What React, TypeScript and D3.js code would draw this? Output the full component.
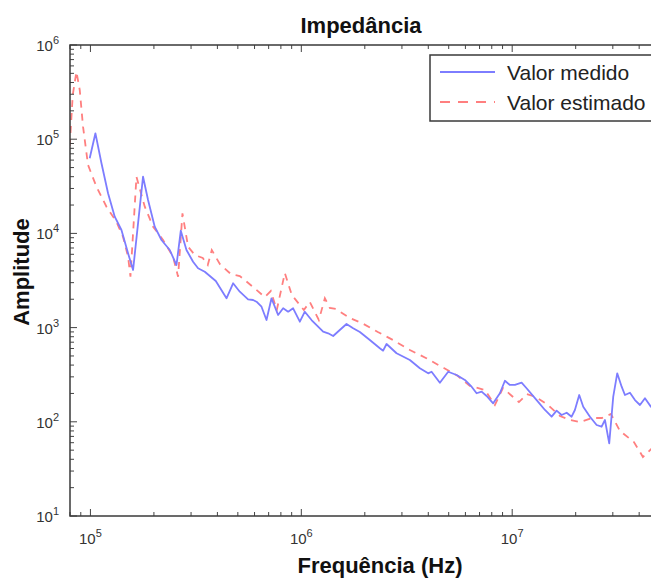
import React from 'react';
import * as d3 from 'd3';

const measuredFreq = [
  9.92e4, 1.056e5, 1.128e5, 1.212e5, 1.304e5, 1.403e5, 1.508e5, 1.593e5, 1.776e5, 1.876e5,
  2.018e5, 2.172e5, 2.378e5, 2.559e5, 2.682e5, 2.854e5, 3.067e5, 3.239e5, 3.485e5, 3.93e5,
  4.418e5, 4.748e5, 5.108e5, 5.592e5, 5.907e5, 6.131e5, 6.475e5, 6.838e5, 7.222e5, 7.761e5,
  8.2e5, 8.66e5, 9.144e5, 9.84e5, 1.039e6, 1.118e6, 1.201e6, 1.269e6, 1.34e6, 1.416e6,
  1.522e6, 1.638e6, 1.761e6, 1.895e6, 2.113e6, 2.357e6, 2.443e6, 2.536e6, 2.829e6, 3.271e6,
  3.649e6, 3.995e6, 4.146e6, 4.54e6, 4.972e6, 5.449e6, 5.965e6, 6.42e6, 6.78e6, 7.159e6,
  7.561e6, 8.124e6, 8.745e6, 9.235e6, 9.752e6, 1.03e7, 1.108e7, 1.17e7, 1.306e7, 1.43e7,
  1.538e7, 1.624e7, 1.715e7, 1.812e7, 1.913e7, 1.983e7, 2.079e7, 2.172e7, 2.337e7, 2.514e7,
  2.655e7, 2.753e7, 2.885e7, 3.014e7, 3.148e7, 3.304e7, 3.425e7, 3.617e7, 3.82e7, 4.035e7,
  4.261e7, 4.545e7, 4.81e7,
];
const measuredAmp = [
  6.27e4, 1.155e5, 5.55e4, 2.666e4, 1.504e4, 1.087e4, 6146, 4088, 4.0e4, 2.262e4,
  1.178e4, 8511, 6664, 4618, 1.068e4, 6664, 5006, 4261, 3921, 3123,
  2046, 2954, 2405, 1997, 1963, 1884, 1667, 1204, 2046, 1361,
  1603, 1475, 1603, 1155, 1475, 1204, 1022, 904, 870, 814,
  943, 1092, 983, 898, 739, 603, 569, 670, 534, 453,
  370, 327, 340, 260, 340, 314, 278, 236, 201, 209,
  188, 157, 201, 273, 246, 246, 260, 227, 170, 133.5,
  113.3, 131.2, 118.1, 124.9, 113.3, 133.5, 192.5, 144.6, 113.3, 92.5,
  88.7, 104.5, 59.1, 184.8, 327, 236, 192.5, 203.7, 170, 150.8,
  177.6, 144.6, 162,
];

const estimatedFreq = [
  7.977e4, 8.243e4, 8.583e4, 8.898e4, 9.224e4, 9.741e4, 1.068e5, 1.191e5, 1.328e5, 1.427e5,
  1.508e5, 1.548e5, 1.653e5, 1.81e5, 1.982e5, 2.21e5, 2.465e5, 2.604e5, 2.731e5, 2.904e5,
  3.126e5, 3.41e5, 3.601e5, 3.762e5, 4.106e5, 4.63e5, 5.108e5, 5.824e5, 6.712e5, 7.166e5,
  7.65e5, 8.352e5, 9.014e5, 1.028e6, 1.097e6, 1.211e6, 1.293e6, 1.365e6, 1.457e6, 1.699e6,
  1.936e6, 2.306e6, 2.717e6, 3.271e6, 3.896e6, 4.742e6, 5.527e6, 6.3e6, 7.42e6, 8.279e6,
  9.036e6, 9.968e6, 1.076e7, 1.174e7, 1.295e7, 1.477e7, 1.684e7, 1.878e7, 2.096e7, 2.388e7,
  2.664e7, 2.939e7, 3.243e7, 3.778e7, 4.169e7, 4.613e7, 4.81e7,
];
const estimatedAmp = [
  8.47e4, 2.945e5, 5.21e5, 3.33e5, 1.358e5, 5.324e4, 3.131e4, 1.92e4, 1.331e4, 9226,
  5656, 3470, 4.0e4, 1.92e4, 1.178e4, 8511, 5656, 3470, 1.635e4, 7222,
  5898, 5482, 4618, 6664, 4734, 3707, 3530, 2764, 2113, 2446,
  1538, 3799, 2218, 1538, 1870, 1204, 2046, 1615, 1576, 1264,
  1119, 898, 739, 578, 476, 372, 306, 240, 218, 150.8,
  228, 188, 162, 197, 183.4, 150.8, 115.3, 104.5, 99.5, 109.7,
  109.7, 121, 79.9, 61, 42.3, 52.7, 64.1,
];

const xTickExps = [5, 6, 7];
const yTickExps = [1, 2, 3, 4, 5, 6];
const seriesNames = ['Valor medido', 'Valor estimado'];
const titleText = 'Impedância';
const xLabelText = 'Frequência (Hz)';
const yLabelText = 'Amplitude';

const W = 651;
const H = 579;
const L = 70, R = 659.6, T = 45, B = 516;

export default function App() {
  const x = d3.scaleLog().domain([8e4, 5e7]).range([L, R]);
  const y = d3.scaleLog().domain([10, 1e6]).range([B, T]);

  const line = d3
    .line<[number, number]>()
    .x((d) => x(d[0]))
    .y((d) => y(d[1]));

  const measured = measuredFreq.map((f, i) => [f, measuredAmp[i]] as [number, number]);
  const estimated = estimatedFreq.map((f, i) => [f, estimatedAmp[i]] as [number, number]);

  const xMinor: number[] = [];
  for (let d = 4; d <= 7; d++) {
    for (let k = 2; k <= 9; k++) {
      const v = k * Math.pow(10, d);
      if (v >= 8e4 && v <= 5e7) xMinor.push(v);
    }
  }
  const yMinor: number[] = [];
  for (let d = 1; d <= 5; d++) {
    for (let k = 2; k <= 9; k++) yMinor.push(k * Math.pow(10, d));
  }

  const axisColor = '#3a3a3a';
  const tickColor = '#444';
  const font = 'Liberation Sans, Arial, Helvetica, sans-serif';
  const majorLen = 7;
  const minorLen = 4;

  return (
    <svg
      width={W}
      height={H}
      style={{ position: 'absolute', left: 0, top: 0, display: 'block', background: '#fff' }}
      fontFamily={font}
    >
      <defs>
        <clipPath id="plotclip">
          <rect x={L} y={T} width={R - L} height={B - T} />
        </clipPath>
      </defs>

      {/* series */}
      <g clipPath="url(#plotclip)">
        <path d={line(estimated) || ''} fill="none" stroke="#ff7f7f" strokeWidth={1.8} strokeDasharray="7,6" />
        <path d={line(measured) || ''} fill="none" stroke="#7d7dff" strokeWidth={1.8} strokeLinejoin="round" />
      </g>

      {/* ticks */}
      <g stroke={tickColor} strokeWidth={1}>
        {xMinor.map((v, i) => (
          <g key={'xm' + i}>
            <line x1={x(v)} x2={x(v)} y1={B} y2={B - minorLen} />
            <line x1={x(v)} x2={x(v)} y1={T} y2={T + minorLen} />
          </g>
        ))}
        {xTickExps.map((e) => (
          <g key={'xM' + e}>
            <line x1={x(Math.pow(10, e))} x2={x(Math.pow(10, e))} y1={B} y2={B - majorLen} />
            <line x1={x(Math.pow(10, e))} x2={x(Math.pow(10, e))} y1={T} y2={T + majorLen} />
          </g>
        ))}
        {yMinor.map((v, i) => (
          <line key={'ym' + i} x1={L} x2={L + minorLen} y1={y(v)} y2={y(v)} />
        ))}
        {yTickExps.map((e) => (
          <line key={'yM' + e} x1={L} x2={L + majorLen} y1={y(Math.pow(10, e))} y2={y(Math.pow(10, e))} />
        ))}
      </g>

      {/* axes box */}
      <rect x={L} y={T} width={R - L} height={B - T} fill="none" stroke={axisColor} strokeWidth={1.5} />

      {/* tick labels */}
      <g fill="#333" fontSize={15}>
        {xTickExps.map((e) => (
          <text key={'xl' + e} x={x(Math.pow(10, e))} y={B + 28} textAnchor="middle">
            <tspan>10</tspan>
            <tspan dy={-7} fontSize={11}>{e}</tspan>
          </text>
        ))}
        {yTickExps.map((e) => (
          <text key={'yl' + e} x={L - 11} y={y(Math.pow(10, e)) + 6} textAnchor="end">
            <tspan>10</tspan>
            <tspan dy={-7} fontSize={11}>{e}</tspan>
          </text>
        ))}
      </g>

      {/* title and axis labels */}
      <text x={361} y={33} textAnchor="middle" fontSize={22} fontWeight="bold" fill="#111">
        {titleText}
      </text>
      <text x={380} y={573} textAnchor="middle" fontSize={22} fontWeight="bold" fill="#111">
        {xLabelText}
      </text>
      <text
        transform="translate(29,272) rotate(-90)"
        textAnchor="middle"
        fontSize={22}
        fontWeight="bold"
        fill="#111"
      >
        {yLabelText}
      </text>

      {/* legend */}
      <g>
        <rect x={430} y={55} width={260} height={66} fill="#fff" stroke={axisColor} strokeWidth={1.5} />
        <line x1={440} x2={495} y1={72} y2={72} stroke="#7d7dff" strokeWidth={2} />
        <line x1={440} x2={495} y1={102} y2={102} stroke="#ff7f7f" strokeWidth={2} strokeDasharray="10,8" />
        <text x={507} y={80} fontSize={21} fill="#222">{seriesNames[0]}</text>
        <text x={507} y={110} fontSize={21} fill="#222">{seriesNames[1]}</text>
      </g>
    </svg>
  );
}
